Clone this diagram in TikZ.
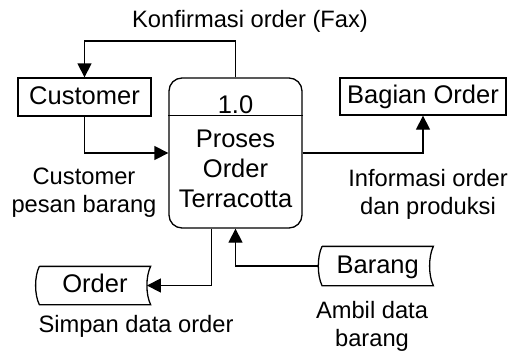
\documentclass[tikz,border=0pt]{standalone}
\usepackage{fontspec}
\setmainfont{Liberation Sans}
\usetikzlibrary{arrows.meta,calc}
\begin{document}
\begin{tikzpicture}[x=1pt,y=-1pt,
  line width=1.3pt,
  boxfont/.style={font=\fontsize{25.5}{30}\selectfont},
  ent/.style={draw, rectangle, inner sep=0pt, boxfont, text height=18.4pt, text depth=4pt},
  procbox/.style={draw, rounded corners=13pt, minimum width=133pt, minimum height=150pt, inner sep=0pt},
  storebox/.style={inner sep=0pt, minimum width=110pt, boxfont, text height=18.4pt, text depth=4pt},
  lbl/.style={inner sep=0pt, align=center, font=\fontsize{23.7}{28}\selectfont},
  arr/.style={-{Triangle[length=14pt,width=14pt]}}]
\useasboundingbox (0,0) rectangle (508,351);

% entities
\node[ent, minimum width=133pt, minimum height=38pt] (cust) at (84.5,97) {Customer};
\node[ent, minimum width=166pt, minimum height=37pt] (bag) at (423,96.5) {Bagian Order};

% process
\node[procbox] (proc) at (235.5,153) {};
\draw ($(proc.north west)+(0,38)$) -- ($(proc.north east)+(0,38)$);
\node[boxfont, inner sep=0pt] (pnum) at (235.5,105) {1.0};
\node[boxfont, inner sep=0pt, align=center] (pname) at (235.5,169) {Proses\\Order\\Terracotta};

% data stores
\node[storebox, minimum height=37pt] (order) at (95,285.5) {Order};
\draw (order.north west) -- (order.north east)
  .. controls +(-5,10) and +(-5,-10) .. (order.south east)
  -- (order.south west)
  .. controls +(-5,-10) and +(-5,10) .. (order.north west);
\node[storebox, minimum height=38pt] (bar) at (377.7,266) {Barang};
\draw (bar.north west) -- (bar.north east)
  .. controls +(-5,10) and +(-5,-10) .. (bar.south east)
  -- (bar.south west)
  .. controls +(-5,-10) and +(-5,10) .. (bar.north west);

% connection points
\coordinate (ytop) at (0,41);
\coordinate (ordin) at ($(order.east)+(-3.75,0)$);
\coordinate (barin) at ($(bar.west)+(-3.75,0)$);
\coordinate (pout) at ($(proc.south)+(-24,0)$);

% flows
\draw[arr] (proc.north) -- (proc.north |- ytop) -| (cust.north);
\draw[arr] (cust.south) |- (proc.west);
\draw[arr] (proc.east) -| (bag.south);
\draw[arr] (pout) |- (ordin);
\draw[arr] (barin) -| (proc.south);

% labels
\node[lbl, anchor=base] (lkonf) at (250,27) {Konfirmasi order (Fax)};
\node[lbl, anchor=north] (lcust) at (84,167.5) {Customer\\pesan barang};
\node[lbl, anchor=north] (linfo) at (428,168.5) {Informasi order\\dan produksi};
\node[lbl, anchor=north] (lsimp) at (136,314.5) {Simpan data order};
\node[lbl, anchor=north] (lambil) at (372,300.5) {Ambil data\\barang};
\end{tikzpicture}
\end{document}
